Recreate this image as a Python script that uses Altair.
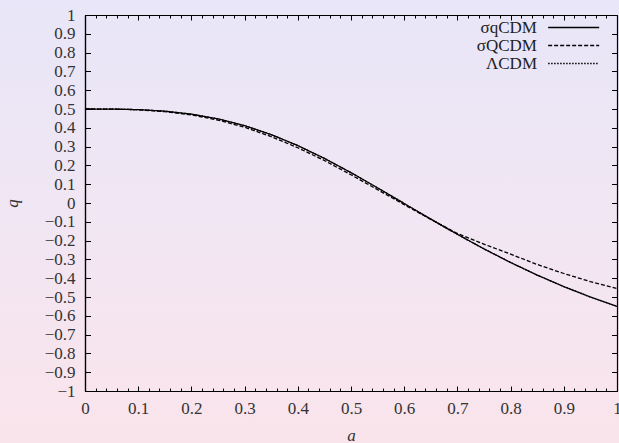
import altair as alt
import pandas as pd

# ---- data ----
a_vals = [0.0, 0.05, 0.1, 0.15, 0.2, 0.25, 0.3, 0.35, 0.4, 0.45, 0.5,
          0.55, 0.6, 0.65, 0.7, 0.75, 0.8, 0.85, 0.9, 0.95, 1.0]
q_sigma_q = [0.5, 0.4996, 0.4966, 0.4885, 0.4728, 0.4475, 0.4115, 0.3640, 0.3055,
             0.2373, 0.1615, 0.0806, -0.0027, -0.0858, -0.1668, -0.2441, -0.3165,
             -0.3835, -0.4447, -0.5001, -0.5500]
q_sigma_Q = [0.5, 0.4995, 0.4960, 0.4860, 0.4690, 0.4410, 0.4030, 0.3530, 0.2940,
             0.2260, 0.1500, 0.0710, -0.0090, -0.0870, -0.1620, -0.2190, -0.2720,
             -0.3270, -0.3750, -0.4180, -0.4550]
q_lcdm = [0.5, 0.4996, 0.4965, 0.4883, 0.4725, 0.4472, 0.4111, 0.3636, 0.3051,
          0.2370, 0.1613, 0.0805, -0.0027, -0.0858, -0.1668, -0.2441, -0.3165,
          -0.3835, -0.4447, -0.5001, -0.5500]
models = ["σqCDM", "σQCDM", "ΛCDM"]

x_ticks = [round(i * 0.1, 1) for i in range(11)]
x_minor = [round(i * 0.02, 2) for i in range(51)]
y_ticks = [round(-1 + i * 0.1, 1) for i in range(21)]

rows = []
for name, series in zip(models, [q_sigma_q, q_sigma_Q, q_lcdm]):
    for a, q in zip(a_vals, series):
        rows.append({"a": a, "q": q, "model": name})
df = pd.DataFrame(rows)

W, H = 532, 376
FONT = "Liberation Serif"
FS = 17
TXT = "#333333"

xscale = alt.Scale(domain=[0, 1], nice=False, zero=False)
yscale = alt.Scale(domain=[-1, 1], nice=False, zero=False)

major_test = "abs(datum.value*10 - round(datum.value*10)) < 0.001"

# background gradient
bg = alt.Chart(pd.DataFrame({"k": [0]})).mark_rect(
    fill=alt.LinearGradient(
        gradient="linear",
        stops=[alt.GradientStop(color="#e8e6f8", offset=0),
               alt.GradientStop(color="#f1e6f3", offset=0.5),
               alt.GradientStop(color="#fae4eb", offset=1)],
        x1=0, x2=0, y1=0, y2=1),
    stroke=None,
).encode(
    x=alt.value(-85), x2=alt.value(W + 2), y=alt.value(-15), y2=alt.value(H + 52)
)

lines = alt.Chart(df).mark_line(color="black", strokeWidth=1.3, clip=True).encode(
    x=alt.X("a:Q", scale=xscale, axis=alt.Axis(
        orient="bottom", values=x_ticks, ticks=False, tickSize=0, format="~g",
        labelFont=FONT, labelFontSize=FS, labelColor=TXT, labelPadding=9,
        labelOverlap=False, labelFlush=False, grid=False, zindex=2,
        domainColor="black", domainWidth=1.2,
        title="a", titleFont=FONT, titleFontSize=FS, titleFontStyle="italic",
        titleFontWeight="normal", titleColor=TXT, titleX=W / 2, titleY=44,
        titleBaseline="middle")),
    y=alt.Y("q:Q", scale=yscale, axis=alt.Axis(
        orient="left", values=y_ticks, ticks=False, tickSize=0, format="~g",
        labelFont=FONT, labelFontSize=FS, labelColor=TXT, labelPadding=10,
        labelOverlap=False, labelFlush=False, grid=False, zindex=2,
        domainColor="black", domainWidth=1.2,
        title="q", titleFont=FONT, titleFontSize=FS, titleFontStyle="italic",
        titleFontWeight="normal", titleColor=TXT, titleX=-73, titleY=H / 2,
        titleBaseline="middle", titleAlign="center")),
    strokeDash=alt.StrokeDash("model:N", scale=alt.Scale(
        domain=models, range=[[1, 0], [4, 2], [1.5, 1.5]]),
        legend=alt.Legend(
            orient="none", legendX=435, legendY=4, title=None, padding=0,
            symbolType="M3.93,0H14.13", symbolSize=100, symbolStrokeColor="black",
            symbolFillColor="transparent",
            symbolStrokeWidth=1.3, labelAlign="right", labelOffset=0,
            symbolOffset=0, rowPadding=0, labelFont=FONT, labelFontSize=FS,
            labelColor="#222222", labelLimit=0)),
    detail="model:N",
)

# inward ticks: bottom edge (pointing up) and left edge (pointing right)
ticks1 = alt.Chart(df).mark_point(opacity=0).encode(
    x=alt.X("a:Q", scale=xscale, axis=alt.Axis(
        orient="top", offset=-H, values=x_minor, labels=False, title=None,
        grid=False, tickColor="black", tickWidth=1, zindex=2,
        tickSize={"condition": {"test": major_test, "value": 5}, "value": 3},
        domainColor="black", domainWidth=1.2)),
    y=alt.Y("q:Q", scale=yscale, axis=alt.Axis(
        orient="right", offset=-W, values=y_ticks, labels=False, title=None,
        grid=False, tickColor="black", tickWidth=1, tickSize=5.5, zindex=2,
        domainColor="black", domainWidth=1.2)),
)

# inward ticks: top edge (pointing down) and right edge (pointing left)
ticks2 = alt.Chart(df).mark_point(opacity=0).encode(
    x=alt.X("a:Q", scale=xscale, axis=alt.Axis(
        orient="bottom", offset=-H, values=x_minor, labels=False, title=None,
        grid=False, tickColor="black", tickWidth=1, zindex=2,
        tickSize={"condition": {"test": major_test, "value": 5}, "value": 3},
        domainColor="black", domainWidth=1.2)),
    y=alt.Y("q:Q", scale=yscale, axis=alt.Axis(
        orient="left", offset=-W, values=y_ticks, labels=False, title=None,
        grid=False, tickColor="black", tickWidth=1, tickSize=5.5, zindex=2,
        domainColor="black", domainWidth=1.2)),
)

chart = alt.layer(bg, lines, ticks1, ticks2).resolve_axis(
    x="independent", y="independent"
).properties(
    width=W, height=H,
    autosize=alt.AutoSizeParams(type="none"),
    padding={"left": 85, "top": 15, "right": 2, "bottom": 52},
    background="#f1e6f3",
).configure_view(stroke=None)

chart.save("out.html", embed_options={"renderer": "svg", "actions": False})
